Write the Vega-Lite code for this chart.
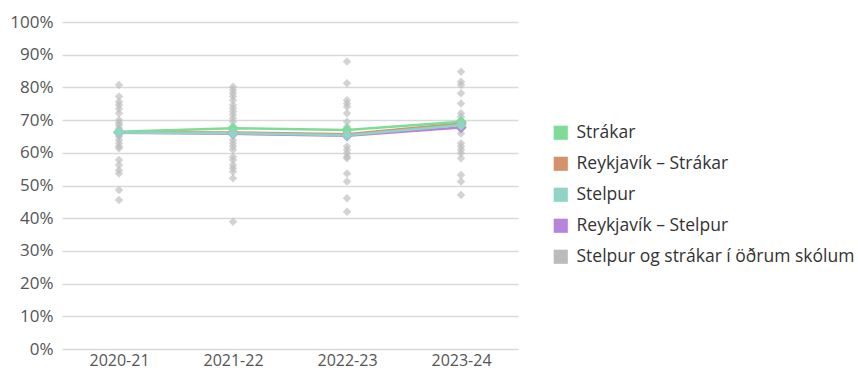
{
  "$schema": "https://vega.github.io/schema/vega-lite/6.json",
  "width": 456,
  "height": 327,
  "autosize": "none",
  "padding": {"left": 62, "top": 22, "right": 340, "bottom": 23},
  "background": "white",
  "config": {
    "font": "Open Sans",
    "view": {"stroke": null},
    "axis": {"labelFont": "Open Sans", "labelFontSize": 16, "labelColor": "#555555", "gridColor": "#d9d9d9", "gridWidth": 1.5, "domain": false, "ticks": false, "labelOverlap": false},
    "legend": {"labelFont": "Open Sans", "labelFontSize": 17.5, "labelColor": "#333333", "labelLimit": 400}
  },
  "data": {
    "values": [
      {"year": "2020-21", "series": "Stelpur og strákar í öðrum skólum", "value": 0.807},
      {"year": "2020-21", "series": "Stelpur og strákar í öðrum skólum", "value": 0.772},
      {"year": "2020-21", "series": "Stelpur og strákar í öðrum skólum", "value": 0.756},
      {"year": "2020-21", "series": "Stelpur og strákar í öðrum skólum", "value": 0.746},
      {"year": "2020-21", "series": "Stelpur og strákar í öðrum skólum", "value": 0.735},
      {"year": "2020-21", "series": "Stelpur og strákar í öðrum skólum", "value": 0.721},
      {"year": "2020-21", "series": "Stelpur og strákar í öðrum skólum", "value": 0.700},
      {"year": "2020-21", "series": "Stelpur og strákar í öðrum skólum", "value": 0.692},
      {"year": "2020-21", "series": "Stelpur og strákar í öðrum skólum", "value": 0.685},
      {"year": "2020-21", "series": "Stelpur og strákar í öðrum skólum", "value": 0.675},
      {"year": "2020-21", "series": "Stelpur og strákar í öðrum skólum", "value": 0.650},
      {"year": "2020-21", "series": "Stelpur og strákar í öðrum skólum", "value": 0.639},
      {"year": "2020-21", "series": "Stelpur og strákar í öðrum skólum", "value": 0.629},
      {"year": "2020-21", "series": "Stelpur og strákar í öðrum skólum", "value": 0.619},
      {"year": "2020-21", "series": "Stelpur og strákar í öðrum skólum", "value": 0.614},
      {"year": "2020-21", "series": "Stelpur og strákar í öðrum skólum", "value": 0.578},
      {"year": "2020-21", "series": "Stelpur og strákar í öðrum skólum", "value": 0.563},
      {"year": "2020-21", "series": "Stelpur og strákar í öðrum skólum", "value": 0.547},
      {"year": "2020-21", "series": "Stelpur og strákar í öðrum skólum", "value": 0.537},
      {"year": "2020-21", "series": "Stelpur og strákar í öðrum skólum", "value": 0.486},
      {"year": "2020-21", "series": "Stelpur og strákar í öðrum skólum", "value": 0.456},
      {"year": "2021-22", "series": "Stelpur og strákar í öðrum skólum", "value": 0.802},
      {"year": "2021-22", "series": "Stelpur og strákar í öðrum skólum", "value": 0.792},
      {"year": "2021-22", "series": "Stelpur og strákar í öðrum skólum", "value": 0.782},
      {"year": "2021-22", "series": "Stelpur og strákar í öðrum skólum", "value": 0.772},
      {"year": "2021-22", "series": "Stelpur og strákar í öðrum skólum", "value": 0.761},
      {"year": "2021-22", "series": "Stelpur og strákar í öðrum skólum", "value": 0.746},
      {"year": "2021-22", "series": "Stelpur og strákar í öðrum skólum", "value": 0.736},
      {"year": "2021-22", "series": "Stelpur og strákar í öðrum skólum", "value": 0.726},
      {"year": "2021-22", "series": "Stelpur og strákar í öðrum skólum", "value": 0.716},
      {"year": "2021-22", "series": "Stelpur og strákar í öðrum skólum", "value": 0.706},
      {"year": "2021-22", "series": "Stelpur og strákar í öðrum skólum", "value": 0.695},
      {"year": "2021-22", "series": "Stelpur og strákar í öðrum skólum", "value": 0.680},
      {"year": "2021-22", "series": "Stelpur og strákar í öðrum skólum", "value": 0.639},
      {"year": "2021-22", "series": "Stelpur og strákar í öðrum skólum", "value": 0.629},
      {"year": "2021-22", "series": "Stelpur og strákar í öðrum skólum", "value": 0.619},
      {"year": "2021-22", "series": "Stelpur og strákar í öðrum skólum", "value": 0.609},
      {"year": "2021-22", "series": "Stelpur og strákar í öðrum skólum", "value": 0.588},
      {"year": "2021-22", "series": "Stelpur og strákar í öðrum skólum", "value": 0.578},
      {"year": "2021-22", "series": "Stelpur og strákar í öðrum skólum", "value": 0.563},
      {"year": "2021-22", "series": "Stelpur og strákar í öðrum skólum", "value": 0.553},
      {"year": "2021-22", "series": "Stelpur og strákar í öðrum skólum", "value": 0.542},
      {"year": "2021-22", "series": "Stelpur og strákar í öðrum skólum", "value": 0.522},
      {"year": "2021-22", "series": "Stelpur og strákar í öðrum skólum", "value": 0.389},
      {"year": "2022-23", "series": "Stelpur og strákar í öðrum skólum", "value": 0.879},
      {"year": "2022-23", "series": "Stelpur og strákar í öðrum skólum", "value": 0.813},
      {"year": "2022-23", "series": "Stelpur og strákar í öðrum skólum", "value": 0.761},
      {"year": "2022-23", "series": "Stelpur og strákar í öðrum skólum", "value": 0.751},
      {"year": "2022-23", "series": "Stelpur og strákar í öðrum skólum", "value": 0.741},
      {"year": "2022-23", "series": "Stelpur og strákar í öðrum skólum", "value": 0.721},
      {"year": "2022-23", "series": "Stelpur og strákar í öðrum skólum", "value": 0.695},
      {"year": "2022-23", "series": "Stelpur og strákar í öðrum skólum", "value": 0.680},
      {"year": "2022-23", "series": "Stelpur og strákar í öðrum skólum", "value": 0.619},
      {"year": "2022-23", "series": "Stelpur og strákar í öðrum skólum", "value": 0.609},
      {"year": "2022-23", "series": "Stelpur og strákar í öðrum skólum", "value": 0.599},
      {"year": "2022-23", "series": "Stelpur og strákar í öðrum skólum", "value": 0.588},
      {"year": "2022-23", "series": "Stelpur og strákar í öðrum skólum", "value": 0.583},
      {"year": "2022-23", "series": "Stelpur og strákar í öðrum skólum", "value": 0.537},
      {"year": "2022-23", "series": "Stelpur og strákar í öðrum skólum", "value": 0.512},
      {"year": "2022-23", "series": "Stelpur og strákar í öðrum skólum", "value": 0.461},
      {"year": "2022-23", "series": "Stelpur og strákar í öðrum skólum", "value": 0.420},
      {"year": "2023-24", "series": "Stelpur og strákar í öðrum skólum", "value": 0.848},
      {"year": "2023-24", "series": "Stelpur og strákar í öðrum skólum", "value": 0.817},
      {"year": "2023-24", "series": "Stelpur og strákar í öðrum skólum", "value": 0.807},
      {"year": "2023-24", "series": "Stelpur og strákar í öðrum skólum", "value": 0.782},
      {"year": "2023-24", "series": "Stelpur og strákar í öðrum skólum", "value": 0.751},
      {"year": "2023-24", "series": "Stelpur og strákar í öðrum skólum", "value": 0.721},
      {"year": "2023-24", "series": "Stelpur og strákar í öðrum skólum", "value": 0.710},
      {"year": "2023-24", "series": "Stelpur og strákar í öðrum skólum", "value": 0.695},
      {"year": "2023-24", "series": "Stelpur og strákar í öðrum skólum", "value": 0.659},
      {"year": "2023-24", "series": "Stelpur og strákar í öðrum skólum", "value": 0.629},
      {"year": "2023-24", "series": "Stelpur og strákar í öðrum skólum", "value": 0.619},
      {"year": "2023-24", "series": "Stelpur og strákar í öðrum skólum", "value": 0.609},
      {"year": "2023-24", "series": "Stelpur og strákar í öðrum skólum", "value": 0.599},
      {"year": "2023-24", "series": "Stelpur og strákar í öðrum skólum", "value": 0.583},
      {"year": "2023-24", "series": "Stelpur og strákar í öðrum skólum", "value": 0.532},
      {"year": "2023-24", "series": "Stelpur og strákar í öðrum skólum", "value": 0.512},
      {"year": "2023-24", "series": "Stelpur og strákar í öðrum skólum", "value": 0.471},
      {"year": "2020-21", "series": "Reykjavík – Stelpur", "value": 0.661},
      {"year": "2021-22", "series": "Reykjavík – Stelpur", "value": 0.658},
      {"year": "2022-23", "series": "Reykjavík – Stelpur", "value": 0.652},
      {"year": "2023-24", "series": "Reykjavík – Stelpur", "value": 0.677},
      {"year": "2020-21", "series": "Reykjavík – Strákar", "value": 0.663},
      {"year": "2021-22", "series": "Reykjavík – Strákar", "value": 0.662},
      {"year": "2022-23", "series": "Reykjavík – Strákar", "value": 0.657},
      {"year": "2023-24", "series": "Reykjavík – Strákar", "value": 0.690},
      {"year": "2020-21", "series": "Strákar", "value": 0.664},
      {"year": "2021-22", "series": "Strákar", "value": 0.675},
      {"year": "2022-23", "series": "Strákar", "value": 0.670},
      {"year": "2023-24", "series": "Strákar", "value": 0.695},
      {"year": "2020-21", "series": "Stelpur", "value": 0.662},
      {"year": "2021-22", "series": "Stelpur", "value": 0.660},
      {"year": "2022-23", "series": "Stelpur", "value": 0.654},
      {"year": "2023-24", "series": "Stelpur", "value": 0.685}
    ]
  },
  "encoding": {
    "x": {"field": "year", "type": "ordinal", "scale": {"type": "point", "padding": 0.5}, "axis": {"title": null, "labelAngle": 0, "grid": false, "labelPadding": 3}},
    "y": {"field": "value", "type": "quantitative", "scale": {"domain": [0, 1]}, "axis": {"title": null, "format": "%", "values": [0, 0.1, 0.2, 0.3, 0.4, 0.5, 0.6, 0.7, 0.8, 0.9, 1], "labelPadding": 9, "labelFontSize": 17}},
    "color": {
      "field": "series", "type": "nominal",
      "scale": {
        "domain": ["Strákar", "Reykjavík – Strákar", "Stelpur", "Reykjavík – Stelpur", "Stelpur og strákar í öðrum skólum"],
        "range": ["#7fdc96", "#d4916a", "#8fd4c4", "#b883dc", "#bbbbbb"]
      },
      "legend": {"title": null, "orient": "none", "legendX": 490, "legendY": 102, "symbolType": "square", "symbolSize": 200, "symbolOpacity": 1, "symbolStrokeWidth": 0, "rowPadding": 12, "labelOffset": 7}
    }
  },
  "layer": [
    {
      "transform": [{"filter": "datum.series === 'Stelpur og strákar í öðrum skólum'"}],
      "mark": {"type": "point", "shape": "diamond", "filled": true, "size": 72, "opacity": 0.65}
    },
    {
      "transform": [{"filter": "datum.series !== 'Stelpur og strákar í öðrum skólum'"}],
      "mark": {"type": "line", "strokeWidth": 2.5},
      "encoding": {"detail": {"field": "series"}}
    },
    {
      "transform": [{"filter": "datum.series !== 'Stelpur og strákar í öðrum skólum'"}],
      "mark": {"type": "point", "shape": "diamond", "filled": true, "size": 130, "opacity": 1}
    }
  ]
}
